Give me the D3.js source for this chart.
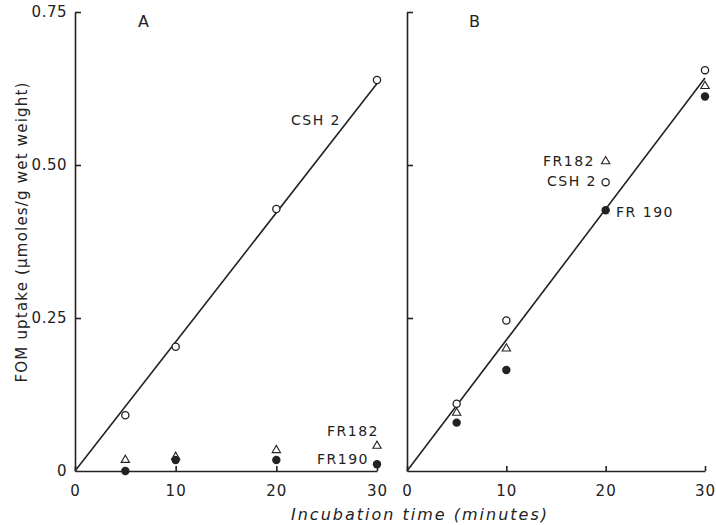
<!DOCTYPE html>
<html>
<head>
<meta charset="utf-8">
<script src="https://cdn.jsdelivr.net/npm/d3@7"></script>
<style>
  body { margin: 0; background: #fff; }
  text { font-family: "DejaVu Sans", sans-serif; fill: #222; }
</style>
</head>
<body>
<div id="chart"></div>
<script>
// incubation times (minutes)
var times = [5, 10, 20, 30];

// panel A values (umoles/g wet weight)
var csh2A = [0.091, 0.203, 0.428, 0.639];
var fr182A = [0.018, 0.023, 0.034, 0.041];
var fr190A = [0.0, 0.018, 0.018, 0.011];
var fitA = [[0, 0], [30, 0.633]];

// panel B values
var csh2B = [0.110, 0.246, 0.472, 0.655];
var fr182B = [0.095, 0.200, 0.506, 0.629];
var fr190B = [0.079, 0.165, 0.426, 0.612];
var fitB = [[0, 0], [30, 0.642]];

var xTicks = [0, 10, 20, 30];
var yTicks = [0, 0.25, 0.5, 0.75];

var svg = d3.select("#chart")
    .append("svg")
    .attr("width", 716)
    .attr("height", 525);

// shared y scale
var y = d3.scaleLinear().domain([0, 0.75]).range([471, 12]);

var drawPanel = function (x0, x1, letter, csh2, fr182, fr190, fit, showYLabels) {
    var x = d3.scaleLinear().domain([0, 30]).range([x0, x1]);

    // x axis, ticks pointing inward
    var xAxis = svg.append("g")
        .attr("transform", "translate(0," + y(0) + ")")
        .call(d3.axisBottom(x).tickValues(xTicks).tickSize(-5).tickSizeOuter(0)
            .tickFormat(function (d) { return d; }));
    xAxis.selectAll("text")
        .attr("y", 14)
        .style("font-size", "15px")
        .style("letter-spacing", "1px");

    // y axis, ticks pointing inward
    var yAxis = svg.append("g")
        .attr("transform", "translate(" + x0 + ",0)")
        .call(d3.axisLeft(y).tickValues(yTicks).tickSize(-6).tickSizeOuter(0)
            .tickFormat(function (d) {
                if (!showYLabels) return "";
                return d === 0 ? "0" : d.toFixed(2);
            }));
    yAxis.selectAll("text")
        .attr("x", -8)
        .style("font-size", "15px")
        .style("letter-spacing", "0.5px");
    yAxis.selectAll(".tick").filter(function (d) { return d === 0; }).select("line").remove();

    svg.selectAll(".domain, .tick line")
        .attr("stroke", "#222")
        .attr("stroke-width", 1.6);

    // fitted line
    svg.append("path")
        .datum(fit)
        .attr("d", d3.line().x(function (d) { return x(d[0]); }).y(function (d) { return y(d[1]); }))
        .attr("stroke", "#222")
        .attr("stroke-width", 1.6)
        .attr("fill", "none");

    // open triangles
    svg.selectAll(null)
        .data(fr182)
        .enter()
        .append("path")
        .attr("d", d3.symbol().type(d3.symbolTriangle).size(30))
        .attr("transform", function (d, i) { return "translate(" + x(times[i]) + "," + y(d) + ")"; })
        .attr("fill", "none")
        .attr("stroke", "#222")
        .attr("stroke-width", 1.1);

    // open circles
    svg.selectAll(null)
        .data(csh2)
        .enter()
        .append("circle")
        .attr("cx", function (d, i) { return x(times[i]); })
        .attr("cy", function (d) { return y(d); })
        .attr("r", 3.6)
        .attr("fill", "#fff")
        .attr("stroke", "#222")
        .attr("stroke-width", 1.3);

    // filled circles
    svg.selectAll(null)
        .data(fr190)
        .enter()
        .append("circle")
        .attr("cx", function (d, i) { return x(times[i]); })
        .attr("cy", function (d) { return y(d); })
        .attr("r", 4.2)
        .attr("fill", "#222");

    svg.append("text")
        .attr("x", x(6.8))
        .attr("y", 27)
        .attr("text-anchor", "middle")
        .style("font-size", "16px")
        .text(letter);

    return x;
};

var xA = drawPanel(75, 377, "A", csh2A, fr182A, fr190A, fitA, true);
var xB = drawPanel(407, 705, "B", csh2B, fr182B, fr190B, fitB, false);

// series labels
var labels = [
    { t: "CSH 2", x: 316, y: 125 },
    { t: "FR182", x: 353, y: 436 },
    { t: "FR190", x: 343, y: 464 },
    { t: "FR182", x: 569, y: 166 },
    { t: "CSH 2", x: 572, y: 186 },
    { t: "FR 190", x: 645, y: 217 }
];
svg.selectAll(null)
    .data(labels)
    .enter()
    .append("text")
    .attr("x", function (d) { return d.x; })
    .attr("y", function (d) { return d.y; })
    .attr("text-anchor", "middle")
    .style("font-size", "14px")
    .style("letter-spacing", "1.5px")
    .text(function (d) { return d.t; });

// axis titles
svg.append("text")
    .attr("transform", "translate(27,232) rotate(-90)")
    .attr("text-anchor", "middle")
    .style("font-size", "15px")
    .style("letter-spacing", "1.2px")
    .text("FOM uptake (\u03bcmoles/g wet weight)");

svg.append("text")
    .attr("x", 420)
    .attr("y", 520)
    .attr("text-anchor", "middle")
    .style("font-size", "16px")
    .style("font-style", "italic")
    .style("letter-spacing", "2px")
    .text("Incubation  time  (minutes)");
</script>
</body>
</html>
